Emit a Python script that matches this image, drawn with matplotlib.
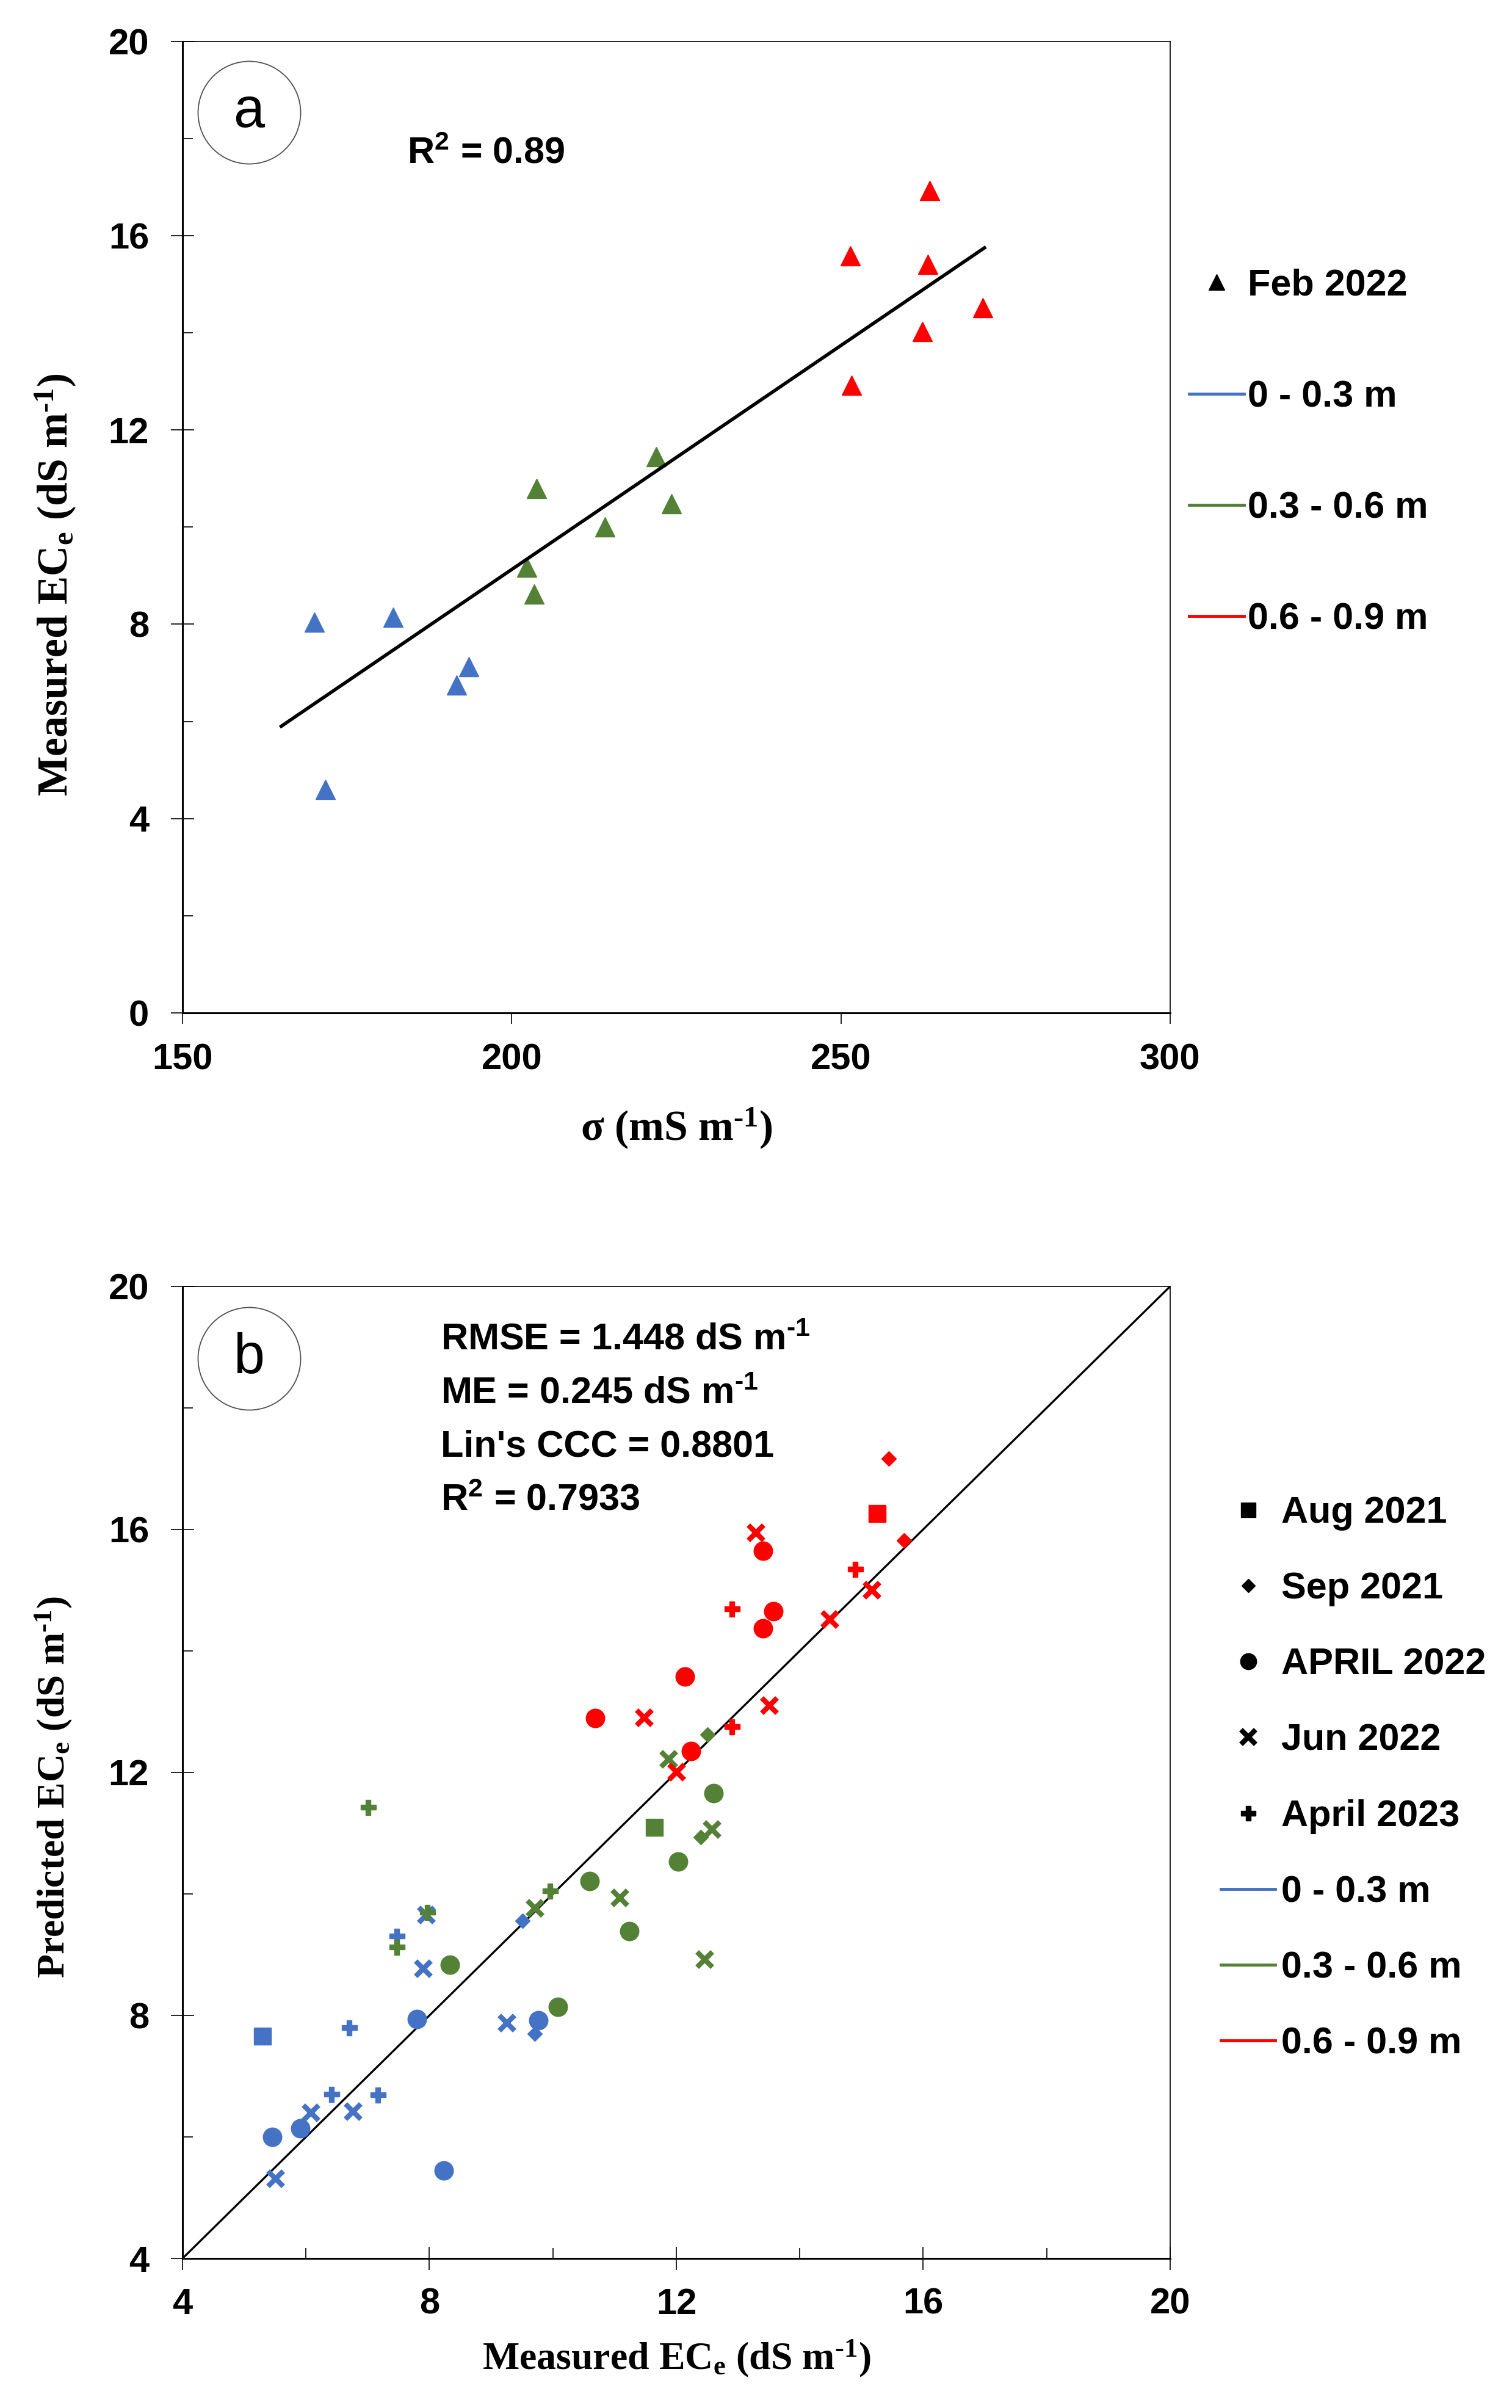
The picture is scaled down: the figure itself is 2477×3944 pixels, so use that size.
import matplotlib
matplotlib.use("Agg")
import matplotlib.pyplot as plt
from matplotlib.lines import Line2D
from matplotlib.ticker import MultipleLocator

plt.rcParams['font.family'] = ['Liberation Sans', 'DejaVu Sans']
plt.rcParams['mathtext.default'] = 'regular'

BLUE = '#4472C4'
GREEN = '#538135'
RED = '#FF0000'
depth_colors = [BLUE, GREEN, RED]
depth_labels = ['0 - 0.3 m', '0.3 - 0.6 m', '0.6 - 0.9 m']

# ---- panel a : sigma vs measured ECe (Feb 2022) ----
sig_d1 = [170.0, 182.0, 171.7, 191.6, 193.5]
ece_d1 = [8.04, 8.15, 4.60, 6.75, 7.12]
sig_d2 = [203.8, 202.3, 203.4, 214.2, 221.9, 224.3]
ece_d2 = [10.79, 9.17, 8.62, 10.00, 11.45, 10.48]
sig_d3 = [251.4, 251.6, 263.5, 263.2, 262.4, 271.5]
ece_d3 = [15.58, 12.92, 16.93, 15.41, 14.03, 14.52]
trend_x = [165.0, 271.8]
trend_y = [5.90, 15.75]

# ---- panel b : measured vs predicted ECe, depth index 0/1/2 ----
aug21_meas = [5.30, 11.64, 15.25]
aug21_pred = [7.66, 11.10, 16.26]
aug21_depth = [0, 1, 2]

sep21_meas = [9.71, 9.51, 12.40, 12.50, 15.69, 15.44]
sep21_pred = [7.70, 9.56, 10.93, 12.62, 15.82, 17.17]
sep21_depth = [0, 0, 1, 1, 2, 2]

apr22_meas = [5.45, 5.91, 7.80, 8.23, 9.77, 8.33, 10.08, 10.60, 11.24, 12.03, 12.60,
              10.69, 12.14, 12.24, 13.40, 13.57, 13.40]
apr22_pred = [6.00, 6.14, 7.94, 5.45, 7.92, 8.83, 8.14, 10.21, 9.39, 10.53, 11.66,
              12.89, 13.58, 12.35, 14.37, 14.65, 15.65]
apr22_depth = [0, 0, 0, 0, 0, 1, 1, 1, 1, 1, 1, 2, 2, 2, 2, 2, 2]

jun22_meas = [5.50, 6.08, 6.76, 7.90, 7.95, 9.25, 9.71, 11.08, 12.57, 12.46, 11.87,
              11.48, 12.00, 13.50, 13.29, 14.48, 15.16]
jun22_pred = [5.32, 6.40, 6.42, 8.77, 9.66, 7.88, 9.77, 9.94, 11.07, 8.92, 12.22,
              12.90, 12.01, 13.11, 15.95, 14.52, 15.00]
jun22_depth = [0, 0, 0, 0, 0, 0, 1, 1, 1, 1, 1, 2, 2, 2, 2, 2, 2]

apr23_meas = [6.41, 7.16, 6.70, 7.47, 7.01, 7.47, 7.97, 9.95, 12.90, 12.90, 14.90]
apr23_pred = [6.70, 6.69, 7.80, 9.31, 11.43, 9.13, 9.70, 10.05, 12.75, 14.69, 15.35]
apr23_depth = [0, 0, 0, 0, 1, 1, 1, 1, 2, 2, 2]

# superscripts use a plain hyphen (U+2010) like the original, not a wide minus
UNIT = ' dS m$^{\u2010' + '1}$'
stats_lines = ['RMSE = 1.448' + UNIT, 'ME = 0.245' + UNIT,
               "Lin's CCC = 0.8801", 'R$^2$ = 0.7933']

fig = plt.figure(figsize=(24.77, 39.44), dpi=100)
ax1 = fig.add_axes([0.1207, 0.5794, 0.6532, 0.4034])
ax2 = fig.add_axes([0.1207, 0.0621, 0.6532, 0.4037])

serif = ['Liberation Serif', 'DejaVu Serif']


def style_axes(ax):
    for side in ['top', 'right']:
        ax.spines[side].set_linewidth(1.2)
    for side in ['left', 'bottom']:
        ax.spines[side].set_linewidth(2.2)
    ax.tick_params(which='major', direction='inout', length=27, width=1.2,
                   labelsize=43, pad=26)
    ax.tick_params(which='minor', direction='in', length=12, width=1.2)
    ax.tick_params(axis='x', pad=21)
    for lab in ax.get_xticklabels() + ax.get_yticklabels():
        lab.set_fontweight('bold')


def panel_tag(ax, letter, x, y):
    ax.plot(x, y, marker='o', ms=121, mfc='none', mec='#505050', mew=1.3,
            transform=ax.transAxes, clip_on=False)
    ax.text(x, y, letter, transform=ax.transAxes, ha='center', va='center',
            fontsize=66)


# ---------- panel a ----------
for sx, sy, col in zip([sig_d1, sig_d2, sig_d3], [ece_d1, ece_d2, ece_d3], depth_colors):
    ax1.plot(sx, sy, linestyle='none', marker='^', ms=23, color=col, mec=col)
ax1.plot(trend_x, trend_y, color='black', lw=4)
ax1.set_xlim(150, 300)
ax1.set_ylim(0, 20)
ax1.xaxis.set_major_locator(MultipleLocator(50))
ax1.yaxis.set_major_locator(MultipleLocator(4))
ax1.yaxis.set_minor_locator(MultipleLocator(2))
style_axes(ax1)
ax1.tick_params(axis='x', which='major', direction='out', length=13, pad=23)

ax1.text(0.2274, 0.884, 'R$^2$ = 0.89', transform=ax1.transAxes, ha='left',
         va='center', fontsize=44, fontweight='bold')
panel_tag(ax1, 'a', 0.0674, 0.927)

ax1.set_xlabel('σ (mS m$^{\u20101}$)', fontsize=50, fontweight='bold', family=serif)
ax1.xaxis.label.set_va('center')
ax1.xaxis.set_label_coords(0.5, -0.119)
ax1.set_ylabel('Measured EC$_e$ (dS m$^{\u20101}$)', fontsize=50, fontweight='bold',
               family=serif)
ax1.yaxis.label.set_va('center')
ax1.yaxis.set_label_coords(-0.1286, 0.441)

h_a = [Line2D([], [], linestyle='none', marker='^', ms=19, color='black')]
h_a += [Line2D([], [], color=c, lw=3.5) for c in depth_colors]
ax1.legend(h_a, ['Feb 2022'] + depth_labels, loc='upper left',
           bbox_to_anchor=(0.7864, 0.8885), bbox_transform=fig.transFigure,
           frameon=False, borderpad=0, borderaxespad=0, handlelength=1.47,
           handletextpad=0.11, labelspacing=2.05,
           prop={'size': 44, 'weight': 'bold'})

# ---------- panel b ----------
ax2.plot([4, 20], [4, 20], color='black', lw=2.4, zorder=1)
series_b = [
    (aug21_meas, aug21_pred, aug21_depth, 's', 20, 0),
    (sep21_meas, sep21_pred, sep21_depth, 'D', 12, 0),
    (apr22_meas, apr22_pred, apr22_depth, 'o', 22, 0),
    (jun22_meas, jun22_pred, jun22_depth, 'x', 18, 6),
    (apr23_meas, apr23_pred, apr23_depth, 'P', 18, 0),
]
for meas, pred, depth, mk, size, mew in series_b:
    for d in range(3):
        xs = [m for m, k in zip(meas, depth) if k == d]
        ys = [p for p, k in zip(pred, depth) if k == d]
        if mk == 'x':
            ax2.plot(xs, ys, linestyle='none', marker=mk, ms=size, mew=mew,
                     color=depth_colors[d], zorder=3)
        else:
            ax2.plot(xs, ys, linestyle='none', marker=mk, ms=size,
                     color=depth_colors[d], mec=depth_colors[d], zorder=3)

ax2.set_xlim(4, 20)
ax2.set_ylim(4, 20)
ax2.xaxis.set_major_locator(MultipleLocator(4))
ax2.xaxis.set_minor_locator(MultipleLocator(2))
ax2.yaxis.set_major_locator(MultipleLocator(4))
ax2.yaxis.set_minor_locator(MultipleLocator(2))
style_axes(ax2)

for i, line in enumerate(stats_lines):
    ax2.text(0.2614, [0.9447, 0.8894, 0.8348, 0.7795][i], line, transform=ax2.transAxes,
             ha='left', va='center', fontsize=44, fontweight='bold')
panel_tag(ax2, 'b', 0.0674, 0.926)

ax2.set_xlabel('Measured EC$_e$ (dS m$^{\u20101}$)', fontsize=46, fontweight='bold',
               family=serif)
ax2.xaxis.label.set_va('center')
ax2.xaxis.set_label_coords(0.5, -0.1024)
ax2.set_ylabel('Predicted EC$_e$ (dS m$^{\u20101}$)', fontsize=46, fontweight='bold',
               family=serif)
ax2.yaxis.label.set_va('center')
ax2.yaxis.set_label_coords(-0.1304, 0.485)

h_b = [Line2D([], [], linestyle='none', marker='s', ms=17, color='black'),
       Line2D([], [], linestyle='none', marker='D', ms=11, color='black'),
       Line2D([], [], linestyle='none', marker='o', ms=19, color='black'),
       Line2D([], [], linestyle='none', marker='x', ms=17, mew=6, color='black'),
       Line2D([], [], linestyle='none', marker='P', ms=17, color='black')]
h_b += [Line2D([], [], color=c, lw=3.5) for c in depth_colors]
lab_b = ['Aug 2021', 'Sep 2021', 'APRIL 2022', 'Jun 2022', 'April 2023'] + depth_labels
ax2.legend(h_b, lab_b, loc='upper left', bbox_to_anchor=(0.8074, 0.3788),
           bbox_transform=fig.transFigure, frameon=False, borderpad=0,
           borderaxespad=0, handlelength=1.46, handletextpad=0.16, labelspacing=1.10,
           prop={'size': 44, 'weight': 'bold'})

fig.savefig('out.png', dpi=100, facecolor='white')
